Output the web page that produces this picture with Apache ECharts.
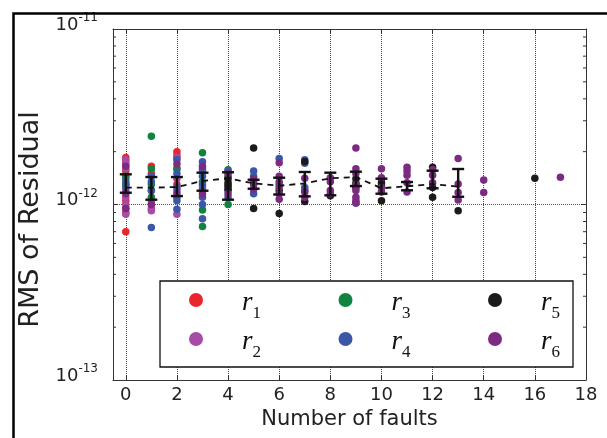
<!DOCTYPE html>
<html>
<head>
<meta charset="utf-8">
<script src="https://cdn.jsdelivr.net/npm/echarts@6/dist/echarts.min.js"></script>
<style>
  html, body { margin: 0; padding: 0; background: #fff; }
  #main { width: 607px; height: 438px; }
</style>
</head>
<body>
<div id="main"></div>
<script>
// values are in units of 1e-12
var UNIT = 1e-12

var seriesNames = ['r1', 'r2', 'r3', 'r4', 'r5', 'r6']
var seriesColors = ['#e8262b', '#a64ca6', '#10843e', '#3b57a7', '#1b1b1b', '#7d2a82']

// [number of faults, [RMS values ...]]
var r1 = [[0, [1.85, 1.7, 1.55, 1.3, 1.05, 0.95, 0.9, 0.7]], [1, [1.65, 1.5]], [2, [2.0, 1.9, 1.3]]]
var r2 = [[0, [1.8, 1.75, 1.6, 1.4, 1.2, 1.1, 1.0, 0.88]], [1, [1.2, 1.05, 0.95, 0.92]], [2, [1.85, 1.6, 1.4, 1.2, 0.88]], [3, [1.55, 1.25]], [4, [1.3]]]
var r3 = [[0, [1.45, 1.3]], [1, [2.45, 1.6, 1.3, 1.1]], [2, [1.6, 1.1]], [3, [1.97, 1.35, 0.93, 0.75]], [4, [1.58, 1.45, 1.0]]]
var r4 = [[0, [1.35, 1.25]], [1, [1.45, 1.35, 1.2, 0.74]], [2, [1.8, 1.5, 1.25, 1.05, 0.94]], [3, [1.75, 1.6, 1.45, 1.3, 1.2, 1.1, 1.0, 0.83]], [4, [1.55, 1.2, 1.1]], [5, [1.55, 1.45, 1.35, 1.15]], [6, [1.83, 1.3]], [7, [1.8, 1.72, 1.25, 1.2]], [9, [1.02]]]
var r5 = [[4, [1.4, 1.33, 1.27, 1.22]], [5, [2.1, 0.95]], [6, [1.2, 0.89]], [7, [1.76, 1.04]], [8, [1.12]], [9, [1.4, 1.32, 1.25]], [10, [1.4, 1.33, 1.28, 1.05]], [12, [1.63, 1.25, 1.1]], [13, [0.92]], [16, [1.41]]]
var r6 = [[0, [1.65, 1.15, 0.95]], [1, [1.0]], [2, [1.7, 1.15]], [3, [1.65, 1.15]], [4, [1.5, 1.15]], [5, [1.4, 1.3, 1.22]], [6, [1.73, 1.45, 1.35, 1.25, 1.15, 1.07]], [7, [1.41, 1.18, 1.1]], [8, [1.42, 1.35, 1.2, 1.15]], [9, [2.1, 1.6, 1.5, 1.3, 1.2, 1.1, 1.05, 1.02]], [10, [1.6, 1.42, 1.25, 1.18]], [11, [1.63, 1.55, 1.47, 1.33, 1.18]], [12, [1.58, 1.47, 1.33]], [13, [1.83, 1.31, 1.17, 1.06]], [14, [1.38, 1.17]], [17, [1.43]]]
var allPoints = [r1, r2, r3, r4, r5, r6]

// mean line + error bars
var faults = [0, 1, 2, 3, 4, 5, 6, 7, 8, 9, 10, 11, 12, 13]
var meanVals = [1.247, 1.247, 1.258, 1.361, 1.410, 1.320, 1.279, 1.320, 1.410, 1.434, 1.237, 1.270, 1.308, 1.263]
var barHigh = [1.486, 1.434, 1.434, 1.518, 1.526, 1.384, 1.421, 1.532, 1.518, 1.538, 1.403, 1.343, 1.558, 1.593]
var barLow = [1.167, 1.065, 1.117, 1.198, 1.065, 1.230, 1.140, 1.113, 1.128, 1.274, 1.152, 1.205, 1.237, 1.107]

var xTicks = [0, 2, 4, 6, 8, 10, 12, 14, 16, 18]
var minorY = [2, 3, 4, 5, 6, 7, 8, 9, 20, 30, 40, 50, 60, 70, 80, 90] // x 1e-13

var chart = echarts.init(document.getElementById('main'))

function flatten(list) {
  var out = []
  list.forEach(function (g) {
    g[1].forEach(function (v) { out.push([g[0], v * UNIT]) })
  })
  return out
}

var series = []
seriesNames.forEach(function (name, i) {
  series.push({
    name: name,
    type: 'scatter',
    symbol: 'circle',
    symbolSize: 7.5,
    itemStyle: { color: seriesColors[i], opacity: 1 },
    data: flatten(allPoints[i]),
    z: 3
  })
})

// dashed mean line
series.push({
  type: 'line',
  symbol: 'none',
  data: faults.map(function (f, i) { return [f, meanVals[i] * UNIT] }),
  lineStyle: { color: '#111', width: 1.8, type: [6, 5] },
  z: 5
})

// error bars
series.push({
  type: 'custom',
  data: faults.map(function (f, i) { return [f, barLow[i] * UNIT, barHigh[i] * UNIT] }),
  encode: { x: 0, y: [1, 2] },
  renderItem: function (params, api) {
    var lo = api.coord([api.value(0), api.value(1)])
    var hi = api.coord([api.value(0), api.value(2)])
    var st = { stroke: '#111', lineWidth: 2.4 }
    return {
      type: 'group',
      children: [
        { type: 'line', shape: { x1: lo[0], y1: lo[1], x2: hi[0], y2: hi[1] }, style: st },
        { type: 'line', shape: { x1: lo[0] - 6, y1: lo[1], x2: lo[0] + 6, y2: lo[1] }, style: st },
        { type: 'line', shape: { x1: hi[0] - 6, y1: hi[1], x2: hi[0] + 6, y2: hi[1] }, style: st }
      ]
    }
  },
  z: 6
})

// minor ticks of the log axis (left + right)
series.push({
  type: 'custom',
  data: minorY.map(function (v) { return [0, v * 1e-13] }),
  encode: { x: 0, y: 1 },
  silent: true,
  renderItem: function (params, api) {
    var p = api.coord([0, api.value(1)])
    var cs = params.coordSys
    var st = { stroke: '#333', lineWidth: 1 }
    return {
      type: 'group',
      children: [
        { type: 'line', shape: { x1: cs.x, y1: p[1], x2: cs.x + 3, y2: p[1] }, style: st },
        { type: 'line', shape: { x1: cs.x + cs.width, y1: p[1], x2: cs.x + cs.width - 3, y2: p[1] }, style: st }
      ]
    }
  },
  z: 2
})

var labelFont = 'DejaVu Sans'

var option = {
  backgroundColor: '#fff',
  animation: false,
  grid: { left: 113, right: 21, top: 29, bottom: 58 },
  xAxis: [{
    type: 'value',
    position: 'bottom',
    min: -0.5,
    max: 18,
    name: 'Number of faults',
    nameLocation: 'middle',
    nameGap: 27,
    nameTextStyle: { fontFamily: labelFont, fontSize: 21, color: '#222' },
    axisLine: { show: true, onZero: false, lineStyle: { color: '#333', width: 1 } },
    axisTick: { show: true, inside: true, length: 5, customValues: xTicks, lineStyle: { color: '#333' } },
    axisLabel: { customValues: xTicks, fontFamily: labelFont, fontSize: 18, color: '#222', margin: 6 },
    splitLine: { show: true, lineStyle: { color: '#444', type: 'dotted', width: 1 } }
  }, {
    type: 'value',
    position: 'top',
    min: -0.5,
    max: 18,
    axisLine: { show: true, onZero: false, lineStyle: { color: '#333', width: 1 } },
    axisTick: { show: true, inside: true, length: 5, customValues: xTicks, lineStyle: { color: '#333' } },
    axisLabel: { show: false },
    splitLine: { show: false }
  }],
  yAxis: [{
    type: 'log',
    logBase: 10,
    position: 'left',
    min: 1e-13,
    max: 1e-11,
    name: 'RMS of Residual',
    nameLocation: 'middle',
    nameGap: 48,
    nameTextStyle: { fontFamily: labelFont, fontSize: 27, color: '#222', padding: [0, 30, 0, 0] },
    axisLine: { show: true, onZero: false, lineStyle: { color: '#333', width: 1 } },
    axisTick: { show: true, inside: true, length: 5, lineStyle: { color: '#333' } },
    axisLabel: {
      margin: 15,
      padding: [0, 0, 12, 0],
      formatter: function (v) {
        var e = Math.round(Math.log10(v))
        return '{b|10}{s|' + e + '}'
      },
      rich: {
        b: { fontFamily: labelFont, fontSize: 18, color: '#222', lineHeight: 22, verticalAlign: 'bottom' },
        s: { fontFamily: labelFont, fontSize: 12, color: '#222', lineHeight: 22, verticalAlign: 'top' }
      }
    },
    splitLine: { show: true, lineStyle: { color: '#555', type: 'dotted', width: 1 } }
  }, {
    type: 'log',
    logBase: 10,
    position: 'right',
    min: 1e-13,
    max: 1e-11,
    axisLine: { show: true, onZero: false, lineStyle: { color: '#333', width: 1 } },
    axisTick: { show: true, inside: true, length: 5, lineStyle: { color: '#333' } },
    axisLabel: { show: false },
    splitLine: { show: false }
  }],
  legend: [0, 1].map(function (row) {
    return {
      data: row === 0 ? ['r1', 'r3', 'r5'] : ['r2', 'r4', 'r6'],
      left: 184,
      top: row === 0 ? 280 : 319,
      z: 10,
      orient: 'horizontal',
      icon: 'circle',
      itemWidth: 14,
      itemHeight: 14,
      itemGap: 76,
      selectedMode: false,
      formatter: function (name) {
        return '{r|r}{s|' + name.slice(1) + '}'
      },
      textStyle: {
        rich: {
          r: { fontFamily: 'Liberation Serif', fontStyle: 'italic', fontSize: 27, color: '#111', verticalAlign: 'top', lineHeight: 30, padding: [4, 0, 0, 34] },
          s: { fontFamily: 'Liberation Serif', fontSize: 17, color: '#111', verticalAlign: 'top', lineHeight: 14, padding: [20, 0, 0, 0], width: 10 }
        }
      }
    }
  }),
  graphic: [{
    type: 'rect',
    shape: { x: 160, y: 281, width: 413, height: 86 },
    style: { fill: '#fff', stroke: '#111', lineWidth: 1.3 },
    z: 8
  }, {
    type: 'rect',
    shape: { x: 13.5, y: 13.5, width: 700, height: 500 },
    style: { fill: 'none', stroke: '#000', lineWidth: 2.5 },
    silent: true,
    z: 9
  }],
  series: series
}

chart.setOption(option)
</script>
</body>
</html>
